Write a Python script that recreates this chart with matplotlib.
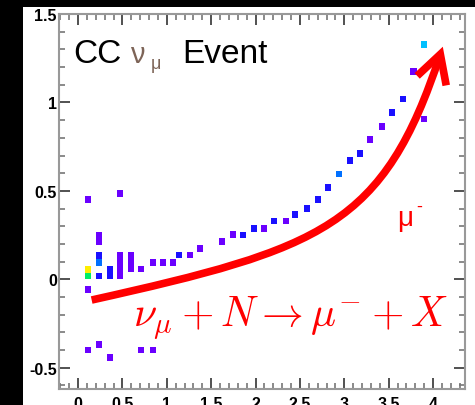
import matplotlib
matplotlib.use('Agg')
import matplotlib.pyplot as plt
from matplotlib.patches import Rectangle, FancyArrowPatch
from matplotlib.path import Path
import numpy as np

plt.rcParams['mathtext.fontset'] = 'cm'

# hit cells: x centre, y centre, colour level
cell_x = [0.116, 0.116, 0.116, 0.116, 0.116,
          0.236, 0.236, 0.236, 0.236, 0.236, 0.236,
          0.36, 0.36, 0.36,
          0.47, 0.47, 0.47, 0.47, 0.47,
          0.60, 0.60, 0.60,
          0.71, 0.71, 0.84, 0.84, 0.96, 1.07, 1.14, 1.26, 1.37,
          1.62, 1.75, 1.86, 1.98, 2.10, 2.21, 2.34, 2.45, 2.58, 2.70,
          2.82, 2.94, 3.06, 3.18, 3.29, 3.42, 3.54, 3.66, 3.78, 3.90, 3.90]
cell_y = [0.45, 0.057, 0.019, -0.057, -0.40,
          0.25, 0.212, 0.135, 0.097, 0.019, -0.367,
          0.057, 0.019, -0.44,
          0.486, 0.134, 0.096, 0.057, 0.019,
          0.134, 0.096, 0.06,
          0.058, -0.40, 0.096, -0.40, 0.096, 0.096, 0.137, 0.137, 0.175,
          0.213, 0.254, 0.25, 0.288, 0.288, 0.329, 0.329, 0.367, 0.401, 0.45,
          0.518, 0.595, 0.671, 0.71, 0.791, 0.866, 0.942, 1.019, 1.173, 1.329, 0.906]
cell_level = [1, 6, 5, 1, 1,
              1, 1, 2, 3, 2, 1,
              2, 2, 1,
              1, 1, 1, 1, 1,
              1, 1, 1,
              1, 1, 1, 1, 1, 1, 2, 1, 1,
              1, 1, 2, 2, 1, 2, 1, 2, 2, 2,
              2, 3, 2, 2, 1, 1, 2, 2, 1, 4, 1]
palette = {1: '#6a00ff', 2: '#1a10ff', 3: '#0070ff', 4: '#00c0ff',
           5: '#00ee66', 6: '#ffee00'}

# muon arrow (cubic bezier: start, two control points, tip)
arrow_x = [0.154, 2.744, 3.445, 4.11]
arrow_y = [-0.117, 0.173, 0.297, 1.315]

xticks = [0, 0.5, 1, 1.5, 2, 2.5, 3, 3.5, 4]
xtick_labels = ['0', '0.5', '1', '1.5', '2', '2.5', '3', '3.5', '4']
yticks = [-0.5, 0, 0.5, 1, 1.5]
ytick_labels = ['-0.5', '0', '0.5', '1', '1.5']

fig = plt.figure(figsize=(4.75, 4.06), dpi=100, facecolor='black')
fig.patches.append(Rectangle((23 / 475, 0), 1, 398 / 406, transform=fig.transFigure,
                             facecolor='white', edgecolor='none', zorder=-10))
ax = fig.add_axes([59 / 475, (406 - 390) / 406, 406 / 475, 375 / 406])
ax.set_facecolor('white')

cw, ch = 0.068, 0.038
cols = [palette[l] for l in cell_level]
ax.bar(cell_x, ch, bottom=np.array(cell_y) - ch / 2, width=cw,
       color=cols, edgecolor='none', zorder=2)

path = Path(list(zip(arrow_x, arrow_y)),
            [Path.MOVETO, Path.CURVE4, Path.CURVE4, Path.CURVE4])
arr = FancyArrowPatch(path=path, arrowstyle='->,head_length=1.0,head_width=0.55',
                      mutation_scale=20, color='red', lw=5.5,
                      capstyle='butt', joinstyle='miter', zorder=3)
ax.add_patch(arr)

ax.set_xlim(-0.214, 4.36)
ax.set_ylim(-0.62, 1.5)
ax.set_xticks(xticks)
ax.set_xticklabels(xtick_labels)
ax.set_yticks(yticks)
ax.set_yticklabels(ytick_labels)
ax.set_xticks(np.arange(-0.2, 4.36, 0.1), minor=True)
ax.set_yticks(np.arange(-0.6, 1.5, 0.1), minor=True)
ax.tick_params(which='both', direction='in', top=True, right=True,
               color='#333333', width=1.2)
ax.tick_params(which='major', length=8)
ax.tick_params(which='minor', length=4.5, color='#777777')
ax.tick_params(axis='y', pad=1.5)
ax.tick_params(axis='x', pad=5)
for lab in ax.get_xticklabels() + ax.get_yticklabels():
    lab.set_fontweight('bold')
    lab.set_fontsize(11.5)
    lab.set_family('Liberation Sans')
for s in ax.spines.values():
    s.set_color('#999999')
    s.set_linewidth(1.5)

# title pieces
ax.text(0.034, 0.872, 'CC', transform=ax.transAxes, fontsize=24,
        family='Liberation Sans', ha='left', va='baseline')
ax.text(0.175, 0.872, 'ν', transform=ax.transAxes, fontsize=21,
        family='Liberation Sans', color='#7d6457', ha='left', va='baseline')
ax.text(0.226, 0.855, 'μ', transform=ax.transAxes, fontsize=13,
        family='Liberation Sans', color='#7d6457', ha='left', va='baseline')
ax.text(0.303, 0.872, 'Event', transform=ax.transAxes, fontsize=24,
        family='Liberation Sans', ha='left', va='baseline')

ax.text(3.59, 0.305, 'μ', fontsize=20, family='Liberation Sans', color='red',
        ha='left', va='baseline')
ax.text(3.81, 0.41, '-', fontsize=13, family='Liberation Sans', color='red',
        ha='left', va='center')

ax.text(0.62, -0.26, r'$\nu_\mu + N \rightarrow \mu^{-} + X$', fontsize=30,
        color='red', ha='left', va='baseline')

fig.savefig('out.png', dpi=100, facecolor='black')
